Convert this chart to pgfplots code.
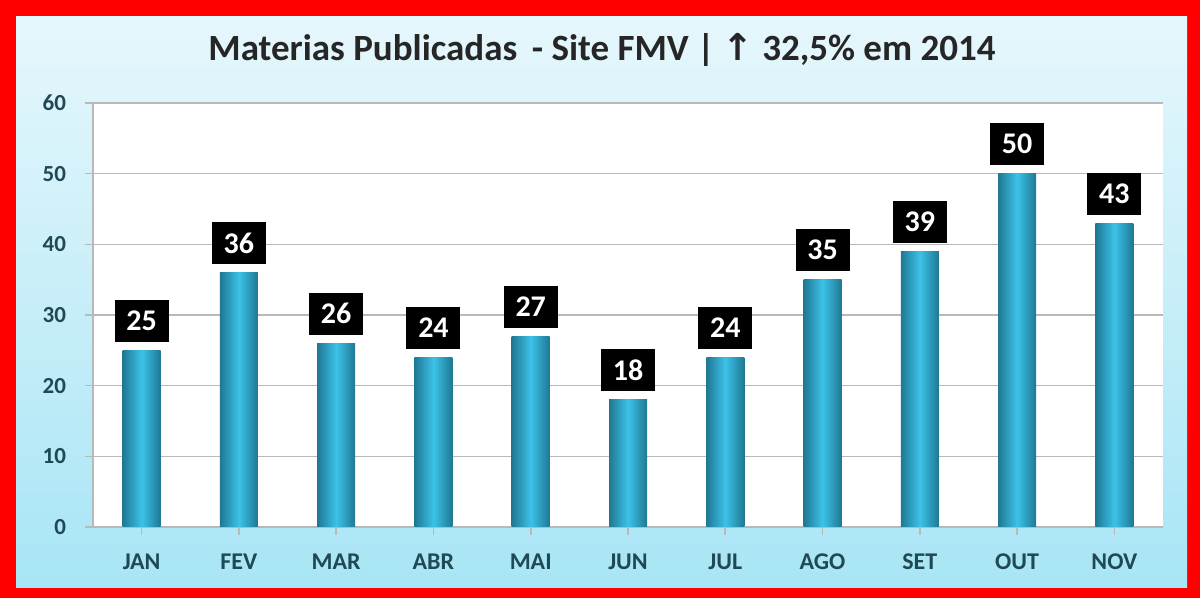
\documentclass[border=0pt]{standalone}
\usepackage{pgfplots}
\pgfplotsset{compat=1.18}
\usepackage{fontspec}
\setmainfont{Carlito}
\newfontfamily\dejavu{DejaVu Sans}
\definecolor{bgtop}{HTML}{E6F7FC}
\definecolor{bgbot}{HTML}{A8E5F5}
\definecolor{barmid}{HTML}{3CC2E8}
\definecolor{baredge}{HTML}{1F7893}
\definecolor{ticktxt}{HTML}{1F4A55}
\pgfplotsset{mybar/.style={ybar, bar shift=0pt, bar width=19pt, draw=none,
  left color=baredge, right color=baredge, middle color=barmid,
  nodes near coords,
  nodes near coords style={fill=black, text=white, font=\bfseries\fontsize{15}{16}\selectfont,
    minimum width=27pt, minimum height=21pt, inner sep=2pt, anchor=south, yshift=4pt}}}
\begin{document}
\begin{tikzpicture}
\fill[red] (0,0) rectangle (600pt,299pt);
\shade[top color=bgtop,bottom color=bgbot] (8pt,5pt) rectangle (593.5pt,290.5pt);
\node[font=\bfseries\fontsize{18.5}{20}\selectfont, text=black!85] at (301pt,274pt) {Materias Publicadas \,- Site FMV \textbar\ {\dejavu\bfseries ↑} 32,5\% em 2014};
\begin{axis}[
  at={(46.5pt,35.5pt)}, anchor=south west,
  scale only axis, width=535pt, height=212pt,
  xmin=-0.5, xmax=10.5, ymin=0, ymax=60,
  ytick={0,10,...,60},
  xtick={0,...,10},
  xticklabels={JAN,FEV,MAR,ABR,MAI,JUN,JUL,AGO,SET,OUT,NOV},
  axis background/.style={fill=white},
  ymajorgrids, grid style={gray!55, line width=0.8pt},
  axis lines=left, axis line style={gray!55,-, line width=0.8pt},
  tick style={gray!55, line width=0.8pt}, tick align=outside, major tick length=4pt,
  /pgf/number format/assume math mode=true,
  yticklabel style={font=\bfseries\fontsize{11.5}{12}\selectfont, text=ticktxt, xshift=-6pt},
  xticklabel style={font=\bfseries\fontsize{12}{13}\selectfont, text=ticktxt, yshift=-6pt},
  clip=false,
]
\addplot[mybar] coordinates {(0,25)};
\addplot[mybar] coordinates {(1,36)};
\addplot[mybar] coordinates {(2,26)};
\addplot[mybar] coordinates {(3,24)};
\addplot[mybar] coordinates {(4,27)};
\addplot[mybar] coordinates {(5,18)};
\addplot[mybar] coordinates {(6,24)};
\addplot[mybar] coordinates {(7,35)};
\addplot[mybar] coordinates {(8,39)};
\addplot[mybar] coordinates {(9,50)};
\addplot[mybar] coordinates {(10,43)};
\end{axis}
\end{tikzpicture}
\end{document}
